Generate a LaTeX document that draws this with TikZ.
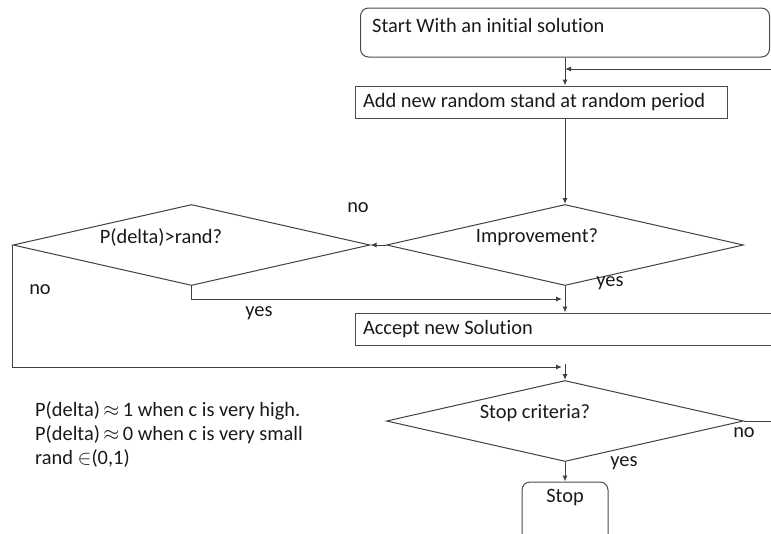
\documentclass[tikz,border=0pt]{standalone}
\usepackage{fontspec}
\setmainfont{Carlito}[Ligatures=NoCommon]
\usetikzlibrary{shapes.geometric,arrows.meta}

\begin{document}
\begin{tikzpicture}[x=1pt,y=-1pt,
  every node/.style={font=\fontsize{20.4}{24}\selectfont,text=black!90},
  txt/.style={inner sep=0pt},
  flow/.style={draw=black!75,line width=1pt},
  arr/.style={flow,-{Latex[length=6pt,width=5pt]}},
  box/.style={draw=black!70,line width=1pt,rectangle,inner xsep=8pt,inner ysep=2pt,align=flush left,minimum height=32pt},
  decision/.style={draw=black!75,line width=1pt,diamond,inner sep=0pt,minimum width=357pt,minimum height=81pt},
  roundbox/.style={draw=black!70,line width=1pt,rectangle,rounded corners=8pt,inner sep=0pt}]
\clip (0,0) rectangle (771,533);
\node[roundbox,minimum width=409pt,minimum height=49pt] (start) at (565,32.5) {};
\node[txt,anchor=west] (starttxt) at (372,25) {Start With an initial solution};
\node[box,text width=356pt] (add) at (541,102) {Add new random stand at random period};
\node[decision] (improve) at (565,245) {};
\node[txt] (improvetxt) at (537,237) {Improvement?};
\node[decision] (pdelta) at (191.5,245) {};
\node[txt] (pdeltatxt) at (161,237) {P(delta)>rand?};
\node[box,text width=409pt] (accept) at (567.5,329) {Accept new Solution};
\node[decision] (stopc) at (565,421) {};
\node[txt] (stopctxt) at (535,413) {Stop criteria?};
\node[roundbox,minimum width=86pt,minimum height=63pt] (stop) at (565,513.5) {};
\node[txt] (stoptxt) at (565,498) {Stop};
\node[txt,anchor=west,align=flush left] (notes) at (35,434)
  {P(delta)\,$\approx$\,1 when c is very high.\\P(delta)\,$\approx$\,0 when c is very small\\rand $\in$(0,1)};
\node[txt] (noimp) at (358,208) {no};
\node[txt] (yesimp) at (610,283) {yes};
\node[txt] (yespd) at (259,313) {yes};
\node[txt] (nopd) at (40,290) {no};
\node[txt] (nostop) at (744,433) {no};
\node[txt] (yesstop) at (624,463) {yes};
\coordinate (loopin) at (771,69);
\coordinate (yesjoin) at (562,299);
\coordinate (nojoin) at (562,367);
\coordinate (stopin) at (565,364);
\coordinate (loopout) at (771,421);
\draw[arr] (start.south) -- (start.south |- add.north);
\draw[arr] (loopin) -- (loopin -| start.south);
\draw[arr] (add.south -| improve.north) -- (improve.north);
\draw[arr] (improve.west) -- (pdelta.east);
\draw[arr] (pdelta.south) |- (yesjoin);
\draw[arr] (improve.south) -- (improve.south |- accept.north);
\draw[arr] (pdelta.west) |- (nojoin);
\draw[arr] (stopin) -- (stopc.north);
\draw[flow] (stopc.east) -- (loopout);
\draw[arr] (stopc.south) -- (stop.north);
\end{tikzpicture}
\end{document}
